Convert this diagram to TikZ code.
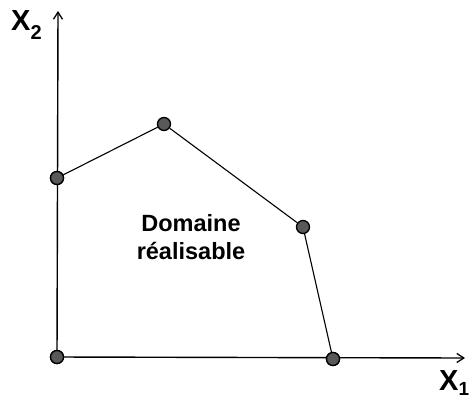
\documentclass[tikz,border=0pt]{standalone}
\usepackage{fontspec}
\setmainfont{Liberation Sans}
\usetikzlibrary{arrows.meta}
\begin{document}
\begin{tikzpicture}[x=1pt,y=-1pt,
  axis/.style={line width=1.4pt,-{Straight Barb[length=7pt,width=9pt,line width=1.3pt]}},
  edge/.style={line width=1.1pt},
  vtx/.style={circle,draw=black,fill=black!65,line width=1.3pt,inner sep=0pt,minimum size=13pt},
  lbl/.style={font=\bfseries,inner sep=0pt}]
\useasboundingbox (0,0) rectangle (473,402);
\node[vtx] (O) at (57,357) {};
\node[vtx] (A) at (57,178) {};
\node[vtx] (B) at (164,124) {};
\node[vtx] (C) at (303,227) {};
\node[vtx] (D) at (333,359) {};
\coordinate (yend) at (58,11);
\coordinate (xend) at (465,358);
\draw[axis] (O.center) -- (yend);
\draw[axis] (O.center) -- (xend);
\draw[edge] (A) -- (B) -- (C) -- (D);
\node[vtx] at (O) {};
\node[vtx] at (A) {};
\node[vtx] at (D) {};
\node[lbl,font=\fontsize{29}{29}\bfseries,anchor=base west] (x2) at (11,30) {X\raisebox{-9pt}{\fontsize{20}{20}\selectfont 2}};
\node[lbl,font=\fontsize{29}{29}\bfseries,anchor=base west] (x1) at (439,390) {X\raisebox{-5pt}{\fontsize{19}{19}\selectfont 1}};
\node[lbl,font=\fontsize{23.5}{28}\bfseries,align=center,anchor=north] (t) at (191,214) {Domaine\\réalisable};
\end{tikzpicture}
\end{document}
